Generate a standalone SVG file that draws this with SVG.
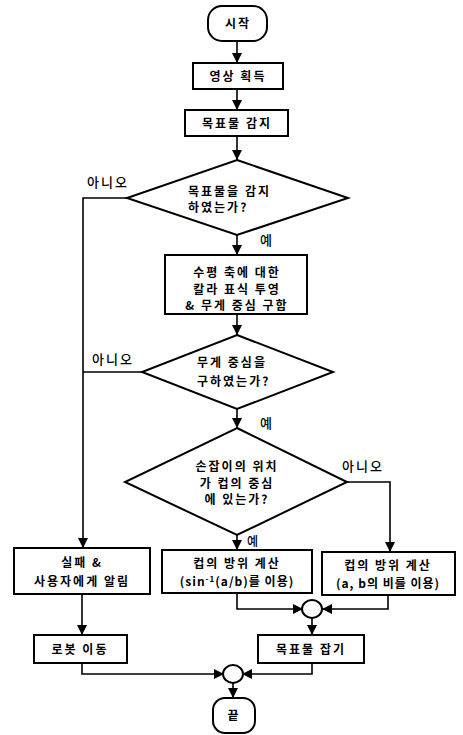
<svg xmlns="http://www.w3.org/2000/svg" width="463" height="735" viewBox="0 0 463 735">
<style>
.n{fill:#fff;stroke:#000;stroke-width:2}
.c{fill:none;stroke:#000;stroke-width:1.6}
.t{font-family:"Noto Sans CJK KR","Noto Sans",sans-serif;font-size:12px;font-weight:bold;fill:#000;letter-spacing:2px}
.m{text-anchor:middle}
.l{font-family:"Noto Sans CJK KR","Noto Sans",sans-serif;font-size:13px;font-weight:500;fill:#000;letter-spacing:2px}
</style>
<defs>
<marker id="a" markerUnits="userSpaceOnUse" markerWidth="10" markerHeight="10" refX="10" refY="5" orient="auto">
<path d="M0,0 L10,5 L0,10 z" fill="#000"/>
</marker>
</defs>
<g id="connectors">
<path class="c" d="M237,41 V63" marker-end="url(#a)"/>
<path class="c" d="M237,89 V110" marker-end="url(#a)"/>
<path class="c" d="M237,136 V160" marker-end="url(#a)"/>
<path class="c" d="M237,235 V255" marker-end="url(#a)"/>
<path class="c" d="M237,314 V335" marker-end="url(#a)"/>
<path class="c" d="M237,409 V428" marker-end="url(#a)"/>
<path class="c" d="M237,535 V550" marker-end="url(#a)"/>
<path class="c" d="M127,198 H83 V548" marker-end="url(#a)"/>
<path class="c" d="M142,372 H83"/>
<path class="c" d="M347,482 H390 V552" marker-end="url(#a)"/>
<path class="c" d="M237,593 V609 H303" marker-end="url(#a)"/>
<path class="c" d="M388,595 V609 H322" marker-end="url(#a)"/>
<path class="c" d="M312,618 V635" marker-end="url(#a)"/>
<path class="c" d="M82,594 V635" marker-end="url(#a)"/>
<path class="c" d="M82,663 V674 H224" marker-end="url(#a)"/>
<path class="c" d="M312,663 V674 H242" marker-end="url(#a)"/>
<path class="c" d="M233,683 V698" marker-end="url(#a)"/>
<text class="l" x="87" y="187">아니오</text>
<text class="l" x="260" y="245">예</text>
<text class="l" x="92" y="364">아니오</text>
<text class="l" x="260" y="428">예</text>
<text class="l" x="342" y="471">아니오</text>
<text class="l" x="247" y="546" style="font-size:12px">예</text>
</g>
<g id="start">
<rect class="n" x="208" y="6" width="59" height="35" rx="14"/>
<text class="t m" x="238" y="28">시작</text>
</g>
<g id="acquire">
<rect class="n" x="193" y="63" width="90" height="26"/>
<text class="t m" x="238" y="81">영상 획득</text>
</g>
<g id="detect">
<rect class="n" x="185" y="110" width="103" height="26"/>
<text class="t m" x="237" y="128">목표물 감지</text>
</g>
<g id="decision1">
<polygon class="n" points="237,160 348,198 237,235 127,198"/>
<text class="t" x="188" y="196">목표물을 감지</text>
<text class="t" x="188" y="212">하였는가?</text>
</g>
<g id="project">
<rect class="n" x="165" y="255" width="142" height="59"/>
<text class="t m" x="237" y="277">수평 축에 대한</text>
<text class="t m" x="237" y="294">칼라 표식 투영</text>
<text class="t m" x="237" y="310">&amp; 무게 중심 구함</text>
</g>
<g id="decision2">
<polygon class="n" points="237,335 333,372 237,409 142,372"/>
<text class="t" x="197" y="367">무게 중심을</text>
<text class="t" x="197" y="386">구하였는가?</text>
</g>
<g id="decision3">
<polygon class="n" points="237,428 347,482 237,535 125,482"/>
<text class="t m" x="237" y="471">손잡이의 위치</text>
<text class="t m" x="237" y="488">가 컵의 중심</text>
<text class="t m" x="237" y="504">에 있는가?</text>
</g>
<g id="fail">
<rect class="n" x="14" y="548" width="136" height="46"/>
<text class="t m" x="82" y="567">실패 &amp;</text>
<text class="t m" x="82" y="586">사용자에게 알림</text>
</g>
<g id="calc1">
<rect class="n" x="162" y="550" width="150" height="43"/>
<text class="t m" x="237" y="568">컵의 방위 계산</text>
<text class="t m" x="237" y="586" style="letter-spacing:1px">(sin<tspan dy="-4" font-size="8">-1</tspan><tspan dy="4">(a/b)를 이용)</tspan></text>
</g>
<g id="calc2">
<rect class="n" x="322" y="552" width="133" height="43"/>
<text class="t m" x="388" y="570">컵의 방위 계산</text>
<text class="t m" x="388" y="588" style="letter-spacing:1px">(a, b의 비를 이용)</text>
</g>
<g id="junction1">
<ellipse class="n" cx="312" cy="609" rx="10" ry="9"/>
</g>
<g id="grab">
<rect class="n" x="258" y="635" width="106" height="28"/>
<text class="t m" x="311" y="654">목표물 잡기</text>
</g>
<g id="move">
<rect class="n" x="34" y="635" width="93" height="28"/>
<text class="t m" x="80" y="654">로봇 이동</text>
</g>
<g id="junction2">
<ellipse class="n" cx="233" cy="674" rx="10" ry="9"/>
</g>
<g id="end">
<rect class="n" x="213" y="698" width="42" height="35" rx="12"/>
<text class="t m" x="234" y="720">끝</text>
</g>
</svg>
